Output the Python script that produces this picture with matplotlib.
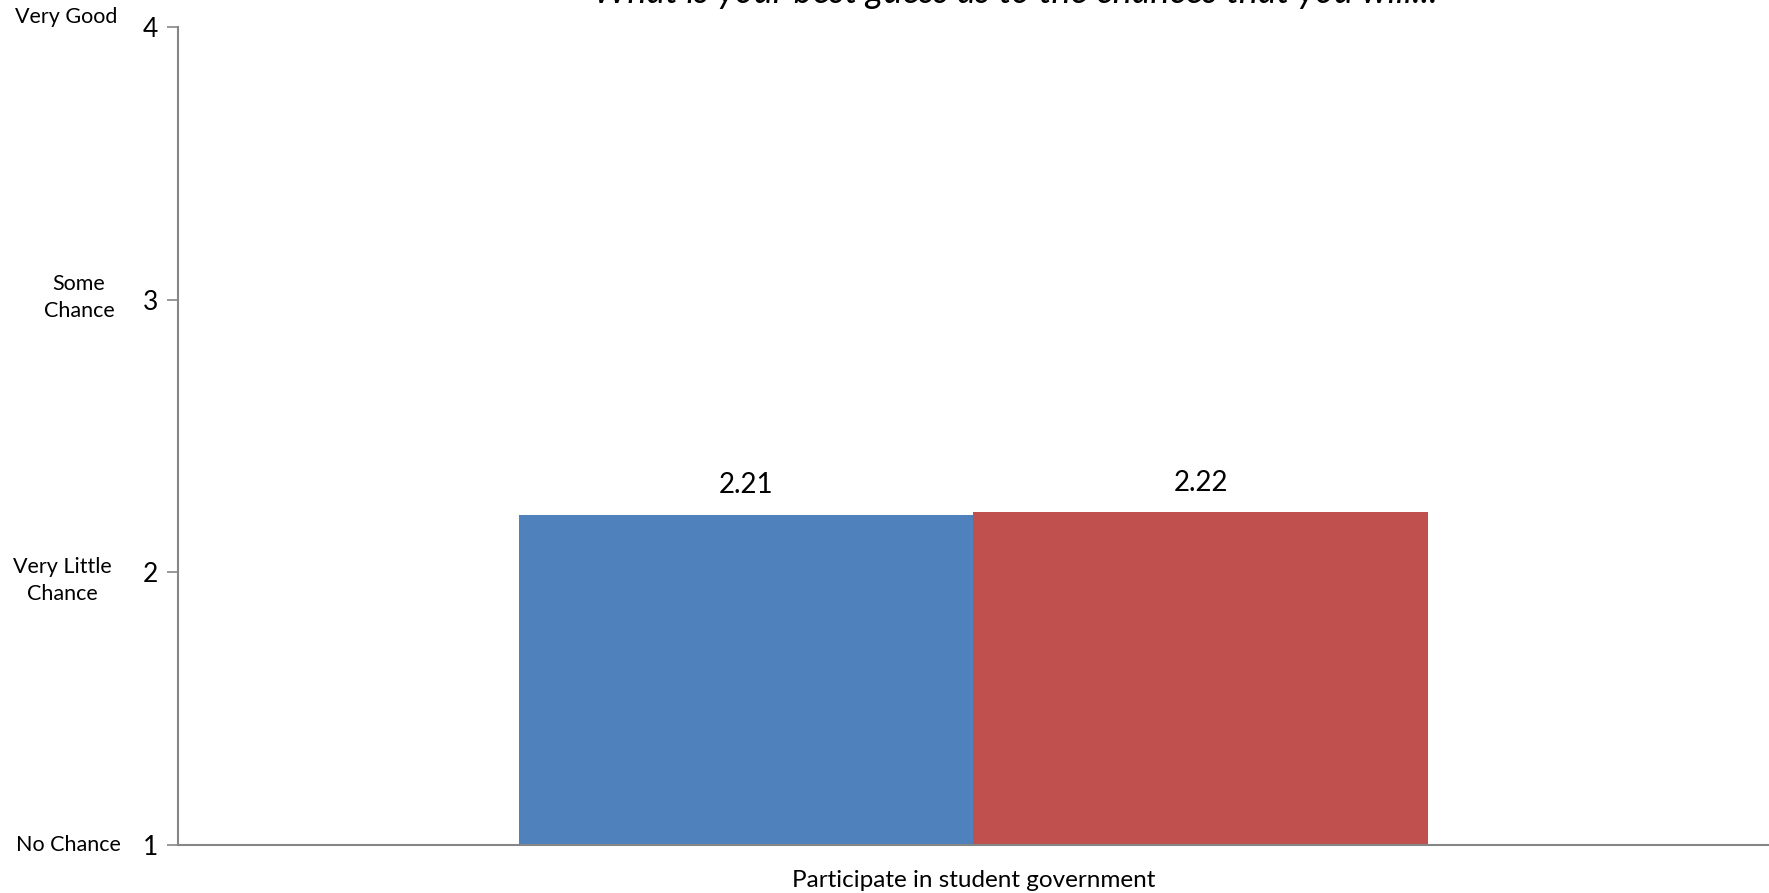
import numpy as np
import matplotlib.pyplot as plt

plt.rcParams['font.family'] = ['Lato', 'DejaVu Sans']

category = "Participate in student government"
series_values = [2.21, 2.22]
series_colors = ["#4F81BD", "#C0504D"]
y_ticks = [1, 2, 3, 4]
y_names = ["No Chance", "Very Little\nChance", "Some\nChance", "Very Good"]
title = "What is your best guess as to the chances that you will..."

fig = plt.figure(figsize=(17.69, 8.93), dpi=100)
ax = fig.add_axes([0.1006, 0.0538, 0.8994, 0.916])

# excel style: gap width 150% => two bars share 0.5714 of the category
w = 1.0 / 3.5
xs = [-w / 2, w / 2]
bars = ax.bar(xs, [v - 1 for v in series_values], bottom=1, width=w,
              color=series_colors, edgecolor='none', zorder=2)
for x, v in zip(xs, series_values):
    ax.annotate("%.2f" % v, xy=(x, v), xytext=(0, 12), textcoords='offset points',
                ha='center', va='bottom', fontsize=20)

ax.set_xlim(-0.5, 0.5)
ax.set_ylim(1, 4)
ax.set_yticks(y_ticks)
ax.set_yticklabels([str(t) for t in y_ticks], fontsize=19)
ax.set_xticks([0])
ax.set_xticklabels([category], fontsize=17.5)
ax.tick_params(axis='x', length=0, pad=18)
ax.tick_params(axis='y', length=8, width=1.2, color='#868686', pad=6)
for s in ['top', 'right']:
    ax.spines[s].set_visible(False)
for s in ['left', 'bottom']:
    ax.spines[s].set_color('#868686')
    ax.spines[s].set_linewidth(1.5)

# text names for the scale points, left of the numbers
name_pos = {1: (68, 0), 2: (62, -8), 3: (79, 2), 4: (66, 10)}
for t, name in zip(y_ticks, y_names):
    px, dy = name_pos[t]
    ax.annotate(name, xy=(0, t), xycoords=('axes fraction', 'data'),
                xytext=(px - 178, dy), textcoords='offset pixels',
                ha='center', va='center', fontsize=15.5, multialignment='center',
                linespacing=1.45)

# title sits mostly above the top edge, as in the source image
fig.text(0.574, 0.9965, title, ha='center', va='baseline', fontsize=26, style='italic')

fig.savefig("out.png", dpi=100)
